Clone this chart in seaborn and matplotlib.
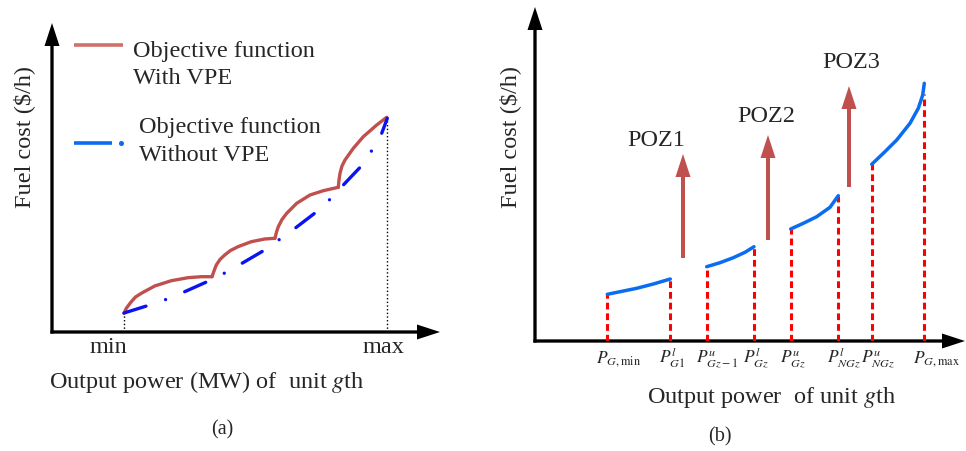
import pandas as pd
import seaborn as sns
import matplotlib.pyplot as plt

# ---- panel (a): unit cost with / without valve-point effect (schematic units)
p_min, p_max = 72, 335
vpe_x = [
    [72, 74.3, 79.3, 83.5, 89.3, 102.7, 119.3, 136, 149.3, 160],
    [160, 162, 164.3, 168, 172.7, 178.5, 186, 199.3, 212.7, 222.7],
    [223, 224.5, 226.3, 230, 234.7, 244.7, 258, 271.3, 286.3],
    [286.3, 287, 288, 290, 293, 301.3, 311.3, 324.7, 334.7],
]
vpe_y = [
    [18.7, 23.7, 30.3, 35, 38.7, 46, 51.3, 54.3, 55.3, 55.3],
    [55.3, 61, 67, 72.5, 77, 81.5, 85.3, 90.3, 93, 93.7],
    [93.7, 100, 105.3, 112.5, 118.7, 128.7, 137, 141.3, 144.7],
    [144.7, 152, 158.7, 166, 172, 183.7, 195.3, 207, 214.7],
]
smooth_x = [72, 97.7, 115.3, 132.7, 156.7, 173.3, 190, 212.7, 243, 264.7,
            278, 291.3, 308.7, 319.7, 329.7, 335.3]
smooth_y = [19, 27, 33, 40.3, 51, 59.3, 68.7, 82, 103.7, 120.3,
            132.7, 147, 165.3, 181.3, 198.7, 213.7]

# ---- panel (b): cost curve with prohibited operating zones
tick_pos = [72.3, 135.3, 171.7, 219, 255.7, 303.3, 336.7, 389.3]
tick_labels = [r'$P_{G,\min}$', r'$P_{G1}^{l}$', r'$P_{Gz-1}^{u}$', r'$P_{Gz}^{l}$',
               r'$P_{Gz}^{u}$', r'$P_{NGz}^{l}$', r'$P_{NGz}^{u}$', r'$P_{G,\max}$']
drop_top = [46.7, 62, 74.3, 94.3, 112, 145.3, 176.7, 246.7]
seg_x = [
    [72.3, 101.7, 118.3, 135.3],
    [171.7, 185, 198.3, 210, 219],
    [255.7, 268.3, 281.7, 295, 303.3],
    [336.7, 348.3, 361.7, 375, 383.3, 387.7, 389.3],
]
seg_y = [
    [46.7, 52.7, 57, 62],
    [74.3, 78.3, 83.3, 88.7, 94.3],
    [112, 117.7, 124.3, 133.7, 145.3],
    [176.7, 187.7, 201, 217.7, 232.7, 246, 257.7],
]
poz_names = ['POZ1', 'POZ2', 'POZ3']
poz_x = [148, 233, 314]
poz_from = [83, 101, 154]
poz_to = [187, 206, 255]
poz_text_x = [121, 231, 316]
poz_text_y = [201, 224, 278]

RED = '#C0504D'
BLUE_A = '#0A14F0'
BLUE_B = '#0A6CF0'
FS = 17.5

sns.set_theme(style='white')
plt.rcParams['font.family'] = ['Liberation Serif', 'DejaVu Serif']
plt.rcParams['mathtext.fontset'] = 'stix'

W, H = 966, 451
fig = plt.figure(figsize=(W / 100, H / 100), dpi=100)


def px_axes(left, right, bottom, top):
    ax = fig.add_axes([left / W, 1 - bottom / H, (right - left) / W, (bottom - top) / H])
    ax.set_xlim(0, right - left)
    ax.set_ylim(0, bottom - top)
    ax.axis('off')
    return ax


def axis_arrows(ax):
    w, h = ax.get_xlim()[1], ax.get_ylim()[1]
    kw = dict(width=3.3, head_width=15, head_length=23, length_includes_head=True,
              color='black', lw=0, clip_on=False)
    ax.arrow(-1.6, 0, w + 1.6, 0, **kw)
    ax.arrow(0, -1.6, 0, h + 1.6, **kw)


def long_form(xs, ys):
    return pd.DataFrame({'x': sum(xs, []), 'y': sum(ys, []),
                         'part': [i for i, x in enumerate(xs) for _ in x]})


# ---------------- (a)
axa = px_axes(52, 440, 332, 23)
axis_arrows(axa)
axa.plot([p_min, p_min], [0, vpe_y[0][0]], ls=':', color='black', lw=1)
axa.plot([p_max, p_max], [0, vpe_y[-1][-1]], ls=':', color='black', lw=1)
sns.lineplot(data=long_form(vpe_x, vpe_y), x='x', y='y', units='part', estimator=None,
             sort=False, color=RED, lw=2.4, solid_joinstyle='round', ax=axa)
sns.lineplot(x=smooth_x, y=smooth_y, estimator=None, sort=False, color=BLUE_A, lw=2.4,
             linestyle=(0, (6.9, 6.2, 0.01, 6.2)), dash_capstyle='round', ax=axa)

axa.plot([22, 71], [287, 287], color='#D0706A', lw=2.6, solid_capstyle='butt')
axa.text(81, 275, 'Objective function', fontsize=FS, va='baseline')
axa.text(81, 248, 'With VPE', fontsize=FS, va='baseline')
axa.plot([22, 60], [189, 189], color=BLUE_B, lw=2.6, solid_capstyle='butt')
axa.plot([69], [189], 'o', ms=2.6, color=BLUE_B)
axa.text(87, 199, 'Objective function', fontsize=FS, va='baseline')
axa.text(87, 171, 'Without VPE', fontsize=FS, va='baseline')

axa.text(56, -21, 'min', fontsize=FS, ha='center', va='baseline')
axa.text(331, -21, 'max', fontsize=FS, ha='center', va='baseline')
axa.text(155, -56, 'Output power (MW) of  unit $g$th', fontsize=FS, ha='center', va='baseline')
axa.text(-28, 195, 'Fuel cost ($/h)', fontsize=FS, rotation=90, ha='center', va='center')
axa.text(170, -98, '(a)', fontsize=14.5, ha='center', va='center')

# ---------------- (b)
axb = px_axes(535, 965, 341, 7)
axis_arrows(axb)
for t, top in zip(tick_pos, drop_top):
    axb.plot([t, t], [0, top], color='#FF0000', lw=2.2, ls=(0, (2.2, 1.3)))
sns.lineplot(data=long_form(seg_x, seg_y), x='x', y='y', units='part', estimator=None,
             sort=False, color=BLUE_B, lw=2.5, solid_joinstyle='round', ax=axb)
for x, lo, hi in zip(poz_x, poz_from, poz_to):
    axb.arrow(x, lo, 0, hi - lo, width=4, head_width=15, head_length=23,
              length_includes_head=True, color=RED, lw=0, clip_on=False)
for name, tx, ty in zip(poz_names, poz_text_x, poz_text_y):
    axb.text(tx, ty, name, fontsize=FS, ha='center', va='center')
for t, lab in zip(tick_pos, tick_labels):
    axb.text(t - 11, -22, lab, fontsize=12.5, ha='left', va='baseline')

axb.text(236, -62, 'Output power  of unit $g$th', fontsize=FS, ha='center', va='baseline')
axb.text(-25, 204, 'Fuel cost ($/h)', fontsize=FS, rotation=90, ha='center', va='center')
axb.text(185, -96, '(b)', fontsize=14.5, ha='center', va='center')

for ax in (axa, axb):
    ax.set_xlabel('')
    ax.set_ylabel('')
fig.savefig('out.png', dpi=100)
